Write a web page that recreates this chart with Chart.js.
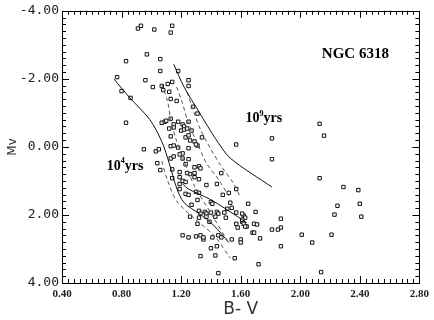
<!DOCTYPE html>
<html>
<head>
<meta charset="utf-8">
<script src="https://cdn.jsdelivr.net/npm/chart.js@4.4.1/dist/chart.umd.min.js"></script>
<style>
  html, body { margin: 0; padding: 0; background: #fff; }
  #cmd { display: block; }
</style>
</head>
<body>
<canvas id="cmd" width="434" height="320"></canvas>
<script>
// Axis ticks (major, labelled)
const X_TICKS = [0.4, 0.8, 1.2, 1.6, 2.0, 2.4, 2.8];
const X_TICK_LABELS = ['0.40', '0.80', '1.20', '1.60', '2.00', '2.40', '2.80'];
const Y_TICKS = [-4, -2, 0, 2, 4];
const Y_TICK_LABELS = ['-4.00', '-2.00', '0.00', '2.00', '4.00'];

// Stars: colour index B-V and absolute magnitude Mv
const STAR_BV = [0.91,0.93,1.02,1.14,1.13,0.97,0.83,1.06,0.77,0.96,1.06,1.18,0.80,0.86,1.01,1.07,1.08,1.11,1.14,1.12,
  1.25,1.25,1.13,1.17,1.28,1.31,0.83,1.25,1.07,1.09,1.10,1.13,1.15,1.18,1.21,1.22,1.12,1.15,1.20,1.22,
  1.24,1.27,1.13,1.23,1.25,1.26,1.29,1.34,1.31,0.95,1.03,1.05,1.13,1.15,1.18,1.21,1.25,1.30,1.57,1.13,
  1.15,1.21,1.25,1.19,1.04,1.23,1.29,1.32,1.33,1.06,1.14,1.19,1.24,1.26,1.29,1.19,1.14,1.21,1.23,1.19,
  1.29,1.32,1.37,1.19,1.23,1.25,1.30,1.32,1.44,1.47,1.48,1.57,1.31,1.40,1.41,1.27,1.32,1.33,1.36,1.37,
  1.40,1.37,1.44,1.45,1.49,1.51,1.54,1.57,1.62,1.63,1.65,1.26,1.32,1.39,1.43,1.50,1.31,1.57,1.61,1.58,
  1.64,1.21,1.25,1.30,1.33,1.35,1.35,1.41,1.45,1.47,1.54,1.60,1.60,1.40,1.44,1.33,1.43,1.56,1.45,1.70,
  1.61,1.69,1.71,1.68,1.69,1.73,1.72,1.81,2.13,2.29,2.39,2.25,2.40,2.23,2.41,1.52,1.53,1.61,1.62,1.63,
  1.87,1.87,1.85,1.81,2.01,2.21,2.08,1.87,2.14,1.81,2.13,2.16];
const STAR_MV = [-3.48,-3.56,-3.45,-3.56,-3.36,-2.72,-2.52,-2.58,-2.05,-1.96,-2.23,-2.23,-1.64,-1.44,-1.76,-1.79,-1.67,-1.85,-1.91,-1.62,
  -1.96,-1.79,-1.41,-1.35,-1.18,-0.98,-0.71,-0.74,-0.71,-0.74,-0.77,-0.83,-0.66,-0.74,-0.66,-0.60,-0.54,-0.57,-0.48,-0.51,
  -0.54,-0.48,-0.31,-0.28,-0.34,-0.19,-0.16,-0.28,-0.04,0.07,0.13,0.07,-0.02,-0.04,0.02,0.19,0.04,-0.07,-0.07,0.34,
  0.28,0.34,0.36,0.22,0.48,0.51,0.60,0.57,0.63,0.68,0.66,0.74,0.77,0.80,0.77,0.89,0.92,1.00,1.03,1.09,
  0.89,0.95,1.12,1.24,1.38,1.41,1.32,1.35,1.09,0.77,1.41,1.24,1.56,1.62,1.67,1.70,1.88,1.96,1.91,1.96,
  1.93,2.05,1.91,1.96,1.93,1.82,1.79,1.93,2.02,2.08,1.67,2.05,2.08,2.20,2.05,2.08,2.26,2.26,2.20,2.37,
  2.34,2.60,2.66,2.63,2.60,2.72,2.66,2.66,2.60,2.66,2.72,2.72,2.81,2.98,2.92,3.21,3.19,3.27,3.71,1.91,
  1.96,2.26,2.28,2.52,2.52,2.69,3.45,0.36,0.92,1.18,1.27,1.73,1.67,1.99,2.05,1.35,1.64,2.14,2.26,2.34,
  2.11,2.37,2.43,2.43,2.58,2.58,2.81,2.92,3.68,-0.25,-0.68,-0.33];

// Isochrones (solid)
const ISO_A_BV = [0.75, 0.85, 0.99, 1.07, 1.12, 1.17, 1.22, 1.32, 1.42, 1.52];
const ISO_A_MV = [-1.99, -1.47, -0.80, -0.16, 0.48, 1.21, 1.64, 1.96, 2.31, 2.81];
const ISO_B_BV = [1.15, 1.22, 1.32, 1.43, 1.53, 1.81];
const ISO_B_MV = [-2.43, -1.76, -1.03, -0.25, 0.33, 1.18];
const ISO_C_BV = [1.21, 1.25, 1.39, 1.52, 1.64];
const ISO_C_MV = [1.09, 1.24, 1.53, 1.88, 2.23];
// Isochrones (dashed)
const ISO_D1_BV = [1.07, 1.11, 1.13, 1.17, 1.22, 1.29, 1.39, 1.51];
const ISO_D1_MV = [-1.85, -1.32, -0.80, -0.16, 0.42, 1.15, 1.88, 2.75];
const ISO_D2_BV = [1.17, 1.21, 1.25, 1.31, 1.37, 1.45, 1.52];
const ISO_D2_MV = [-1.76, -1.27, -0.68, -0.10, 0.48, 0.95, 1.44];
const ISO_D3_BV = [1.24, 1.28, 1.33, 1.40, 1.47, 1.55, 1.60];
const ISO_D3_MV = [-1.61, -1.09, -0.51, 0.07, 0.57, 1.06, 1.50];
const ISO_D4_BV = [1.07, 1.11, 1.17, 1.29, 1.42, 1.53];
const ISO_D4_MV = [0.42, 1.00, 1.59, 2.11, 2.60, 3.27];

const toPoints = (xs, ys) => xs.map((x, i) => ({ x, y: ys[i] }));

function isoLine(xs, ys, dashed) {
  return {
    data: toPoints(xs, ys),
    showLine: true,
    borderColor: dashed ? '#555' : '#111',
    borderWidth: 1,
    borderDash: dashed ? [4, 3] : [],
    pointRadius: 0,
    tension: 0.3,
    fill: false,
  };
}

// Inward ticks on all four sides plus the frame
const framePlugin = {
  id: 'frame',
  afterDraw(chart) {
    const { ctx, chartArea: a, scales: { x, y } } = chart;
    ctx.save();
    ctx.strokeStyle = '#000';
    ctx.lineWidth = 1;
    ctx.beginPath();
    for (let i = 0; i <= 60; i++) {
      const v = x.min + i * 0.04;
      const px = Math.round(x.getPixelForValue(v)) + 0.5;
      const len = i % 10 === 0 ? 7 : 4;
      ctx.moveTo(px, a.bottom); ctx.lineTo(px, a.bottom - len);
      ctx.moveTo(px, a.top); ctx.lineTo(px, a.top + len);
    }
    for (let i = 0; i <= 40; i++) {
      const v = y.min + i * 0.2;
      const py = Math.round(y.getPixelForValue(v)) + 0.5;
      const len = i % 10 === 0 ? 7 : 4;
      ctx.moveTo(a.left, py); ctx.lineTo(a.left + len, py);
      ctx.moveTo(a.right, py); ctx.lineTo(a.right - len, py);
    }
    ctx.stroke();
    ctx.strokeRect(Math.round(a.left) + 0.5, Math.round(a.top) + 0.5,
      Math.round(a.right - a.left), Math.round(a.bottom - a.top));
    ctx.restore();
  },
};

// Text labels placed in data coordinates
const LABELS = [
  { text: 'NGC 6318', x: 2.37, y: -2.72, align: 'center' },
  { base: '10', sup: '9', rest: 'yrs', x: 1.633, y: -0.83 },
  { base: '10', sup: '4', rest: 'yrs', x: 0.70, y: 0.57 },
];

const labelPlugin = {
  id: 'labels',
  afterDatasetsDraw(chart) {
    const { ctx, scales: { x, y } } = chart;
    ctx.save();
    ctx.fillStyle = '#000';
    ctx.textBaseline = 'middle';
    LABELS.forEach(l => {
      const px = x.getPixelForValue(l.x);
      const py = y.getPixelForValue(l.y);
      if (l.text) {
        ctx.font = 'bold 15px "Liberation Serif"';
        ctx.textAlign = l.align;
        ctx.fillText(l.text, px, py);
        return;
      }
      ctx.textAlign = 'left';
      ctx.font = 'bold 14px "Liberation Serif"';
      ctx.fillText(l.base, px, py);
      let cx = px + ctx.measureText(l.base).width;
      ctx.font = 'bold 8px "Liberation Serif"';
      ctx.fillText(l.sup, cx, py - 5);
      cx += ctx.measureText(l.sup).width;
      ctx.font = 'bold 14px "Liberation Serif"';
      ctx.fillText(l.rest, cx, py);
    });
    ctx.restore();
  },
};

new Chart(document.getElementById('cmd'), {
  type: 'scatter',
  data: {
    datasets: [
      isoLine(ISO_A_BV, ISO_A_MV, false),
      isoLine(ISO_B_BV, ISO_B_MV, false),
      isoLine(ISO_C_BV, ISO_C_MV, false),
      isoLine(ISO_D1_BV, ISO_D1_MV, true),
      isoLine(ISO_D2_BV, ISO_D2_MV, true),
      isoLine(ISO_D3_BV, ISO_D3_MV, true),
      isoLine(ISO_D4_BV, ISO_D4_MV, true),
      {
        data: toPoints(STAR_BV, STAR_MV),
        pointStyle: 'rect',
        pointRadius: 2.4,
        pointBorderWidth: 1,
        pointBorderColor: '#111',
        pointBackgroundColor: '#fff',
        showLine: false,
      },
    ],
  },
  options: {
    responsive: false,
    animation: false,
    layout: { padding: { top: 8, right: 12, left: 0, bottom: 0 } },
    plugins: { legend: { display: false }, tooltip: { enabled: false } },
    scales: {
      x: {
        type: 'linear',
        min: 0.4,
        max: 2.8,
        afterBuildTicks: s => { s.ticks = X_TICKS.map(v => ({ value: v })); },
        afterFit: s => { s.height = 37; },
        grid: { display: false, drawTicks: false },
        border: { display: false },
        ticks: {
          autoSkip: false,
          maxRotation: 0,
          padding: 5,
          color: '#222',
          font: { family: '"Liberation Serif"', size: 11, weight: 'bold' },
          callback: (v, i) => X_TICK_LABELS[i],
        },
        title: {
          display: true,
          text: 'B- V',
          color: '#333',
          font: { family: '"DejaVu Sans"', size: 17 },
          padding: { top: 0, bottom: 0 },
        },
      },
      y: {
        type: 'linear',
        reverse: true,
        min: -4,
        max: 4,
        afterBuildTicks: s => { s.ticks = Y_TICKS.map(v => ({ value: v })); },
        afterFit: s => { s.width = 62; },
        grid: { display: false, drawTicks: false },
        border: { display: false },
        ticks: {
          autoSkip: false,
          padding: 3,
          color: '#222',
          font: { family: '"DejaVu Sans Mono"', size: 13 },
          callback: (v, i) => Y_TICK_LABELS[i],
        },
        title: {
          display: true,
          text: 'Mv',
          color: '#333',
          font: { family: '"DejaVu Sans"', size: 12 },
          padding: { top: 6, bottom: 0 },
        },
      },
    },
  },
  plugins: [framePlugin, labelPlugin],
});
</script>
</body>
</html>
